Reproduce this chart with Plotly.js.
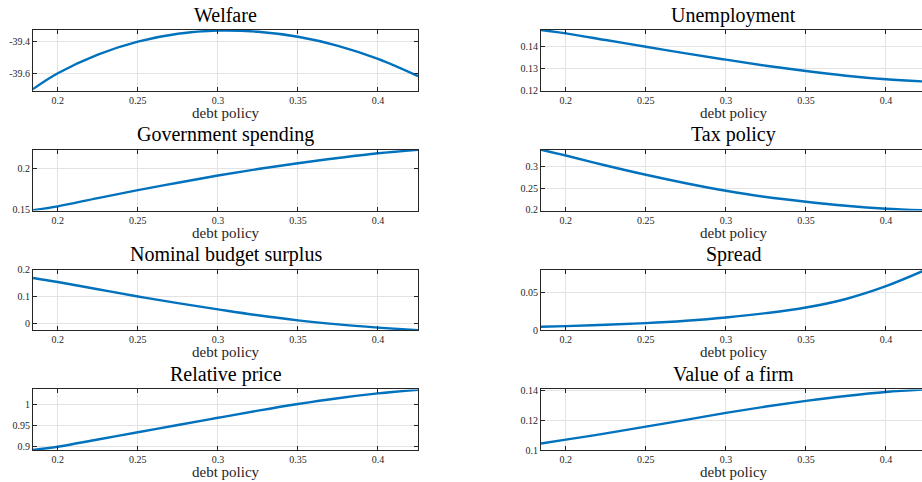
<!DOCTYPE html>
<html>
<head>
<meta charset="utf-8">
<script src="https://cdn.plot.ly/plotly-3.0.1.min.js"></script>
<style>
html,body{margin:0;padding:0;overflow:hidden;background:#fff;}
#chart{width:930px;height:482px;}
</style>
</head>
<body>
<div id="chart"></div>
<script>
// ---- data ----
const debtPolicy = [0.1845, 0.2, 0.225, 0.25, 0.275, 0.3, 0.325, 0.35, 0.375, 0.4, 0.425];
const welfare = [-39.70, -39.60, -39.482, -39.40, -39.35, -39.33, -39.337, -39.369, -39.426, -39.509, -39.618];
const unemployment = [0.1472, 0.1457, 0.1427, 0.1397, 0.1367, 0.1339, 0.1312, 0.1288, 0.1267, 0.1251, 0.1241];
const governmentSpending = [0.1495, 0.1540, 0.1640, 0.1735, 0.1825, 0.1912, 0.1990, 0.2060, 0.2123, 0.2180, 0.2222];
const taxPolicy = [0.3385, 0.3253, 0.3023, 0.2809, 0.2614, 0.2440, 0.2295, 0.2185, 0.2093, 0.2025, 0.1985];
const nominalBudgetSurplus = [0.169, 0.154, 0.127, 0.100, 0.075, 0.052, 0.030, 0.011, -0.004, -0.016, -0.026];
const spread = [0.0045, 0.0053, 0.0070, 0.0093, 0.0125, 0.0168, 0.0225, 0.0300, 0.0414, 0.0584, 0.0804];
const relativePrice = [0.891, 0.8986, 0.916, 0.9335, 0.951, 0.9683, 0.9855, 1.0015, 1.0155, 1.027, 1.036];
const valueOfFirm = [0.1044, 0.1070, 0.1112, 0.1157, 0.1203, 0.1250, 0.1292, 0.1330, 0.1363, 0.1390, 0.1407];

const titles = ["Welfare", "Unemployment", "Government spending", "Tax policy",
                "Nominal budget surplus", "Spread", "Relative price", "Value of a firm"];
const xLabel = "debt policy";
const xTickVals = [0.2, 0.25, 0.3, 0.35, 0.4];
const xTickText = ["0.2", "0.25", "0.3", "0.35", "0.4"];

const yTickVals = [
  [-39.6, -39.4], [0.12, 0.13, 0.14], [0.15, 0.2], [0.2, 0.25, 0.3],
  [0, 0.1, 0.2], [0, 0.05], [0.9, 0.95, 1], [0.1, 0.12, 0.14]
];
const yTickText = [
  ["-39.6", "-39.4"], ["0.12", "0.13", "0.14"], ["0.15", "0.2"], ["0.2", "0.25", "0.3"],
  ["0", "0.1", "0.2"], ["0", "0.05"], ["0.9", "0.95", "1"], ["0.1", "0.12", "0.14"]
];
const series = [welfare, unemployment, governmentSpending, taxPolicy,
                nominalBudgetSurplus, spread, relativePrice, valueOfFirm];

// ---- layout config ----
const W = 930, H = 482;
const yRanges = [
  [-39.71, -39.326], [0.12, 0.1472], [0.149, 0.2222], [0.1984, 0.3385],
  [-0.026, 0.2], [-0.0003, 0.0805], [0.8905, 1.0367], [0.1, 0.1407]
];
const xRange = [0.1845, 0.425];
const colPx = [[33, 418], [541, 926]];
const rowTop0 = 30, rowStep = 119.8, rowH = 60.7;

const axisColor = '#262626';
const gridColor = '#e3e3e3';
const fontFam = '"Liberation Serif", "Times New Roman", serif';

const traces = [];
const layout = {
  width: W, height: H,
  margin: {l: 0, r: 0, t: 0, b: 0, pad: 0},
  showlegend: false,
  paper_bgcolor: '#fff', plot_bgcolor: '#fff',
  font: {family: fontFam, color: axisColor},
  annotations: []
};

for (let i = 0; i < 8; i++) {
  const row = Math.floor(i / 2), col = i % 2;
  const n = i === 0 ? '' : String(i + 1);
  const top = rowTop0 + rowStep * row;
  const bot = top + rowH;
  const xd = [colPx[col][0] / W, colPx[col][1] / W];
  const yd = [1 - bot / H, 1 - top / H];

  traces.push({
    type: 'scatter', mode: 'lines',
    x: debtPolicy, y: series[i],
    xaxis: 'x' + n, yaxis: 'y' + n,
    line: {color: '#0072BD', width: 2.4, shape: 'spline', smoothing: 1},
    hoverinfo: 'x+y'
  });

  const common = {
    showline: true, linecolor: axisColor, linewidth: 1, mirror: 'allticks',
    ticks: 'inside', ticklen: 4, tickcolor: axisColor, tickwidth: 1,
    showgrid: true, gridcolor: gridColor, gridwidth: 1, zeroline: false,
    tickfont: {family: fontFam, size: 10, color: axisColor},
    tickmode: 'array', fixedrange: true
  };
  layout['xaxis' + n] = Object.assign({}, common, {
    domain: xd, range: xRange, anchor: 'y' + n,
    tickvals: xTickVals, ticktext: xTickText
  });
  layout['yaxis' + n] = Object.assign({}, common, {
    domain: yd, range: yRanges[i], anchor: 'x' + n,
    tickvals: yTickVals[i], ticktext: yTickText[i]
  });

  const cx = (xd[0] + xd[1]) / 2;
  layout.annotations.push({
    text: titles[i], xref: 'paper', yref: 'paper',
    x: cx, y: 1 - (top - 15) / H, xanchor: 'center', yanchor: 'middle',
    showarrow: false, font: {family: fontFam, size: 20, color: '#000'}
  });
  layout.annotations.push({
    text: xLabel, xref: 'paper', yref: 'paper',
    x: cx, y: 1 - (bot + 22) / H, xanchor: 'center', yanchor: 'middle',
    showarrow: false, font: {family: fontFam, size: 15, color: axisColor}
  });
}

Plotly.newPlot('chart', traces, layout, {staticPlot: true, displayModeBar: false});
</script>
</body>
</html>
